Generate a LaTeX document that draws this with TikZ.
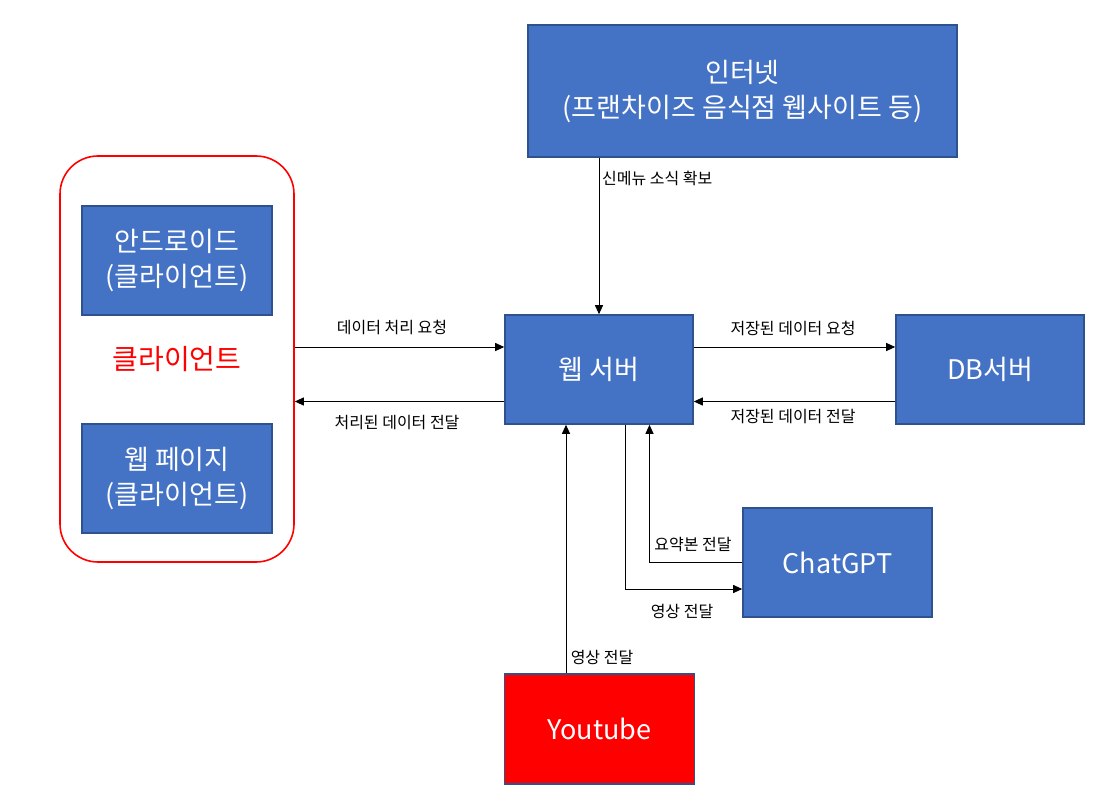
\documentclass[tikz,border=0pt]{standalone}
\usepackage{fontspec}
\setmainfont{Noto Sans CJK KR}
\usetikzlibrary{arrows.meta}
\definecolor{boxblue}{HTML}{4472C4}
\definecolor{boxedge}{HTML}{2F528F}
\definecolor{pred}{HTML}{FF0000}
\tikzset{
  box/.style={draw=boxedge, line width=1.6pt, fill=boxblue, text=white, align=center,
    inner sep=0pt, font=\fontsize{27}{35}\selectfont},
  lbl/.style={inner sep=0pt, font=\fontsize{16}{18}\selectfont},
  arr/.style={line width=1pt, -{Triangle[length=9pt,width=8pt]}}
}
\begin{document}
\begin{tikzpicture}[x=1pt,y=-1pt]
\useasboundingbox (0,0) rectangle (1107,805);
% nodes
\node[box, minimum width=429pt, minimum height=132pt] (inet) at (742.5,91)
  {인터넷\\(프랜차이즈 음식점 웹사이트 등)};
\node[draw=pred, line width=1.6pt, rounded corners=38pt, minimum width=234pt, minimum height=406pt,
  text=pred, font=\fontsize{28}{35}\selectfont] (client) at (177,359) {클라이언트};
\node[box, minimum width=190pt, minimum height=109pt] (andr) at (177,260.5) {안드로이드\\(클라이언트)};
\node[box, minimum width=190pt, minimum height=109pt] (webp) at (177,478.5) {웹 페이지\\(클라이언트)};
\node[box, minimum width=188pt, minimum height=109pt] (ws) at (599,369.5) {웹 서버};
\node[box, minimum width=188pt, minimum height=109pt] (db) at (990,369.5) {DB서버};
\node[box, minimum width=189pt, minimum height=109pt] (cg) at (837.5,562.5) {ChatGPT};
\node[box, fill=pred, minimum width=190pt, minimum height=110pt] (yt) at (599.5,729) {Youtube};
% helper coordinates
\coordinate (wsw1) at ([yshift=22.5pt]ws.west);
\coordinate (wsw2) at ([yshift=-32pt]ws.west);
\coordinate (wse1) at ([yshift=22.5pt]ws.east);
\coordinate (wse2) at ([yshift=-32pt]ws.east);
\coordinate (yt1) at ([xshift=-33.5pt]yt.north);
\coordinate (cg1) at ([yshift=-26.5pt]cg.west);
% connectors
\draw[arr] (inet.south -| ws.north) -- (ws.north);
\draw[arr] (wsw1 -| client.east) -- (wsw1);
\draw[arr] (wsw2) -- (wsw2 -| client.east);
\draw[arr] (wse1) -- (wse1 -| db.west);
\draw[arr] (wse2 -| db.west) -- (wse2);
\draw[arr] (yt1) -- (yt1 |- ws.south);
\draw[arr] ([xshift=26.5pt]ws.south) |- (cg1);
\draw[arr] (cg.west) -| ([xshift=50.5pt]ws.south);
% labels
\node[lbl, anchor=west] (l1) at (602,178) {신메뉴 소식 확보};
\node[lbl] (l2) at (392,327) {데이터 처리 요청};
\node[lbl] (l3) at (397,423) {처리된 데이터 전달};
\node[lbl] (l4) at (793,328) {저장된 데이터 요청};
\node[lbl] (l5) at (793,417) {저장된 데이터 전달};
\node[lbl] (l6) at (693,545) {요약본 전달};
\node[lbl] (l7) at (682,611) {영상 전달};
\node[lbl] (l8) at (602,657) {영상 전달};
\end{tikzpicture}
\end{document}
